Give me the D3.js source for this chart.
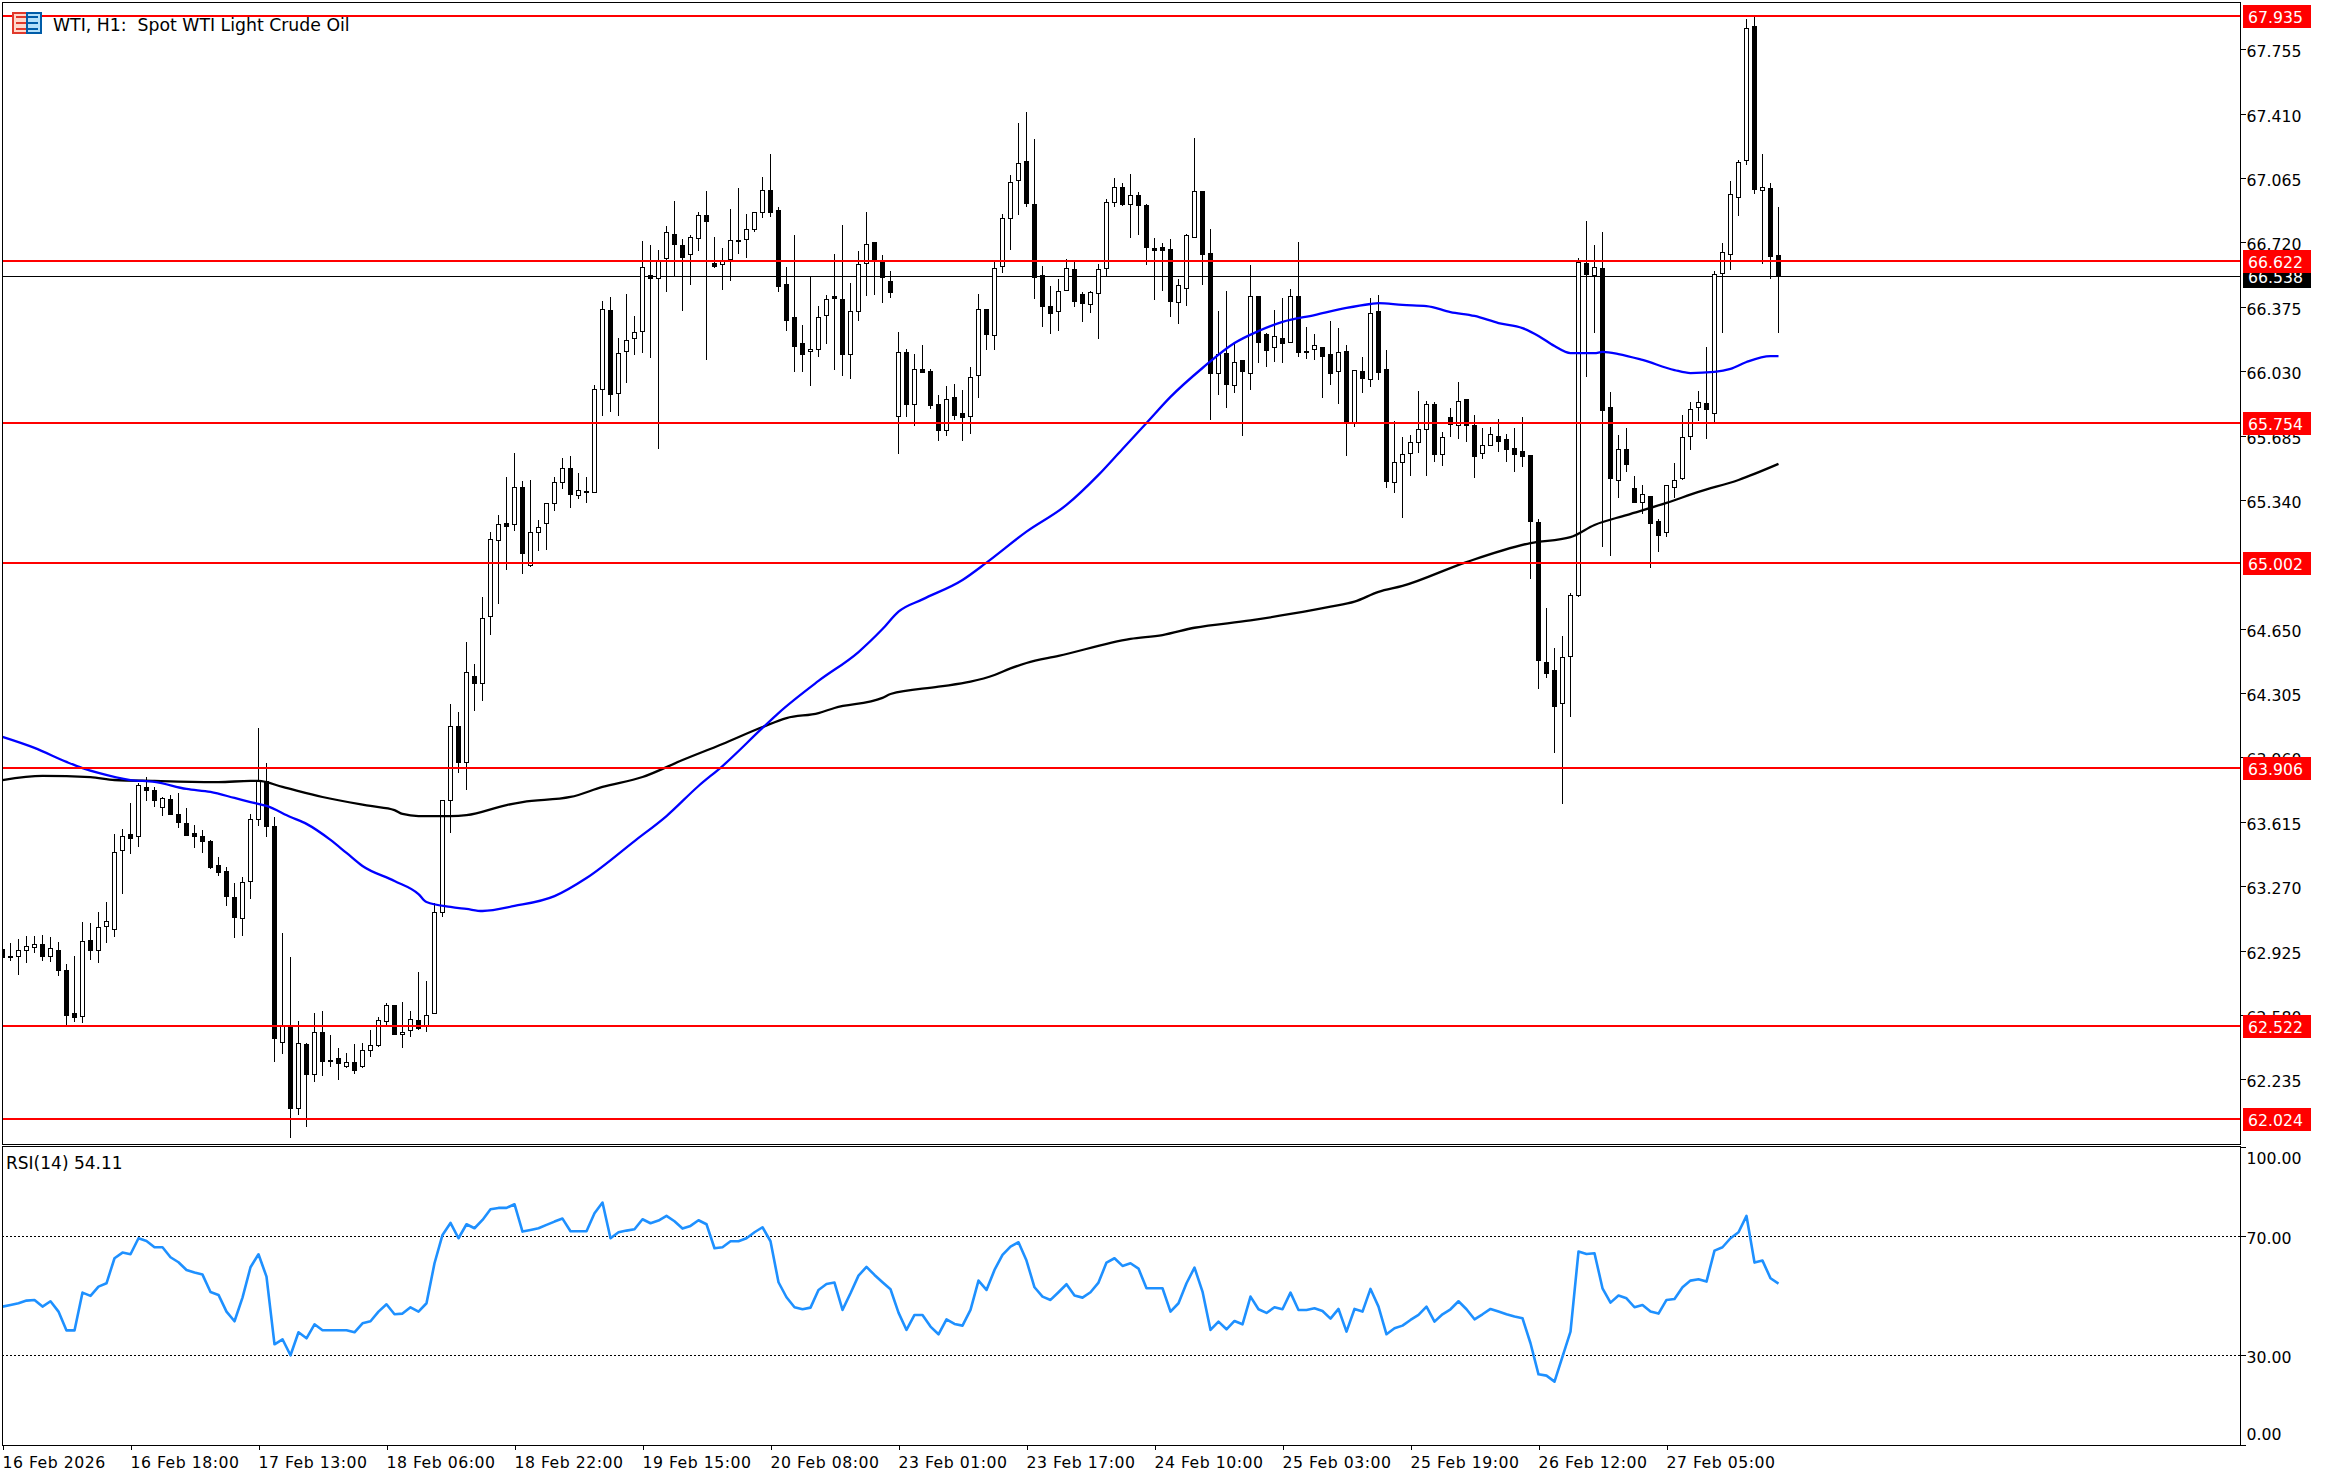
<!DOCTYPE html>
<html>
<head>
<meta charset="utf-8">
<script src="https://cdnjs.cloudflare.com/ajax/libs/d3/7.8.5/d3.min.js"></script>
<style>
html,body{margin:0;padding:0;background:#fff;}
svg{display:block;}
text{font-family:"DejaVu Sans",sans-serif;font-size:15.7px;fill:#000;}
</style>
</head>
<body>
<div id="chart"></div>
<script>
const opens=[62.932,62.896,62.894,62.927,62.943,62.959,62.894,62.927,62.819,62.589,
62.573,62.980,62.927,63.055,63.039,63.463,63.548,63.538,63.800,63.784,
63.693,63.736,63.655,63.607,63.554,63.538,63.511,63.382,63.350,63.211,
63.098,63.296,63.629,63.832,63.591,62.434,62.518,62.080,62.423,62.262,
62.487,62.338,62.348,62.309,62.326,62.309,62.391,62.417,62.546,62.632,
62.476,62.498,62.551,62.525,62.589,63.130,63.730,64.127,63.934,64.394,
64.357,64.716,65.123,65.214,65.209,65.407,64.989,65.166,65.214,65.322,
65.434,65.509,65.364,65.388,65.384,65.933,66.356,65.911,66.136,66.206,
66.243,66.544,66.527,66.635,66.763,66.704,66.656,66.742,66.865,66.608,
66.603,66.629,66.731,66.736,66.790,66.881,66.999,66.892,66.495,66.318,
66.179,66.136,66.147,66.329,66.433,66.415,66.120,66.351,66.608,66.720,
66.619,66.511,65.788,66.131,65.856,66.040,66.029,65.852,65.716,65.890,
65.804,65.788,66.008,66.361,66.222,66.592,66.849,67.053,67.154,66.924,
66.543,66.377,66.350,66.467,66.576,66.441,66.388,66.447,66.581,66.935,
67.015,66.924,66.972,66.919,66.688,66.693,66.683,66.399,66.474,66.747,
66.994,66.661,66.018,66.125,65.954,66.088,66.018,66.431,66.227,66.157,
66.206,66.184,66.431,66.136,66.147,66.157,66.120,66.029,66.136,65.750,
66.029,65.986,66.350,66.040,65.434,65.541,65.589,65.648,65.718,65.852,
65.584,65.782,65.739,65.879,65.739,65.589,65.632,65.680,65.664,65.616,
65.600,65.579,65.220,64.469,64.427,64.250,64.502,64.832,66.608,66.544,
66.581,65.836,65.445,65.611,65.402,65.327,65.360,65.226,65.167,65.408,
65.456,65.681,65.836,65.858,65.804,66.555,66.660,66.965,67.160,67.880,
67.000,67.010,66.653];
const highs=[62.964,62.964,62.985,63.003,63.003,63.007,62.996,62.969,62.852,62.894,
63.078,63.071,63.130,63.184,63.548,63.575,63.714,63.822,63.857,63.800,
63.747,63.757,63.768,63.688,63.596,63.570,63.516,63.425,63.371,63.286,
63.318,63.655,64.116,63.929,63.639,63.018,62.889,62.546,62.428,62.589,
62.600,62.471,62.401,62.375,62.423,62.428,62.498,62.568,62.643,62.632,
62.648,62.600,62.809,62.760,63.179,63.730,64.244,64.202,64.577,64.459,
64.818,65.166,65.257,65.461,65.590,65.439,65.445,65.230,65.322,65.461,
65.563,65.573,65.482,65.461,65.954,66.404,66.426,66.206,66.444,66.324,
66.726,66.704,66.678,66.806,66.940,66.736,66.758,66.881,66.994,66.747,
66.688,66.897,67.010,66.870,66.881,67.069,67.192,66.908,66.586,66.758,
66.276,66.538,66.377,66.436,66.656,66.811,66.501,66.672,66.881,66.720,
66.651,66.565,66.238,66.147,66.120,66.168,66.040,65.900,65.949,65.959,
65.927,66.050,66.444,66.361,66.613,66.870,67.079,67.358,67.417,67.272,
66.592,66.484,66.522,66.629,66.618,66.452,66.458,66.602,66.951,67.063,
67.036,67.085,66.988,66.924,66.742,66.715,66.736,66.522,66.763,67.278,
66.994,66.790,66.352,66.458,66.179,66.088,66.597,66.431,66.233,66.356,
66.420,66.468,66.720,66.265,66.227,66.157,66.297,66.259,66.168,66.034,
66.104,66.420,66.436,66.141,65.761,65.675,65.686,65.922,65.868,65.863,
65.702,65.830,65.970,65.879,65.793,65.723,65.729,65.772,65.691,65.723,
65.782,65.579,65.240,64.759,64.549,64.609,64.839,66.635,66.833,66.705,
66.774,65.917,65.686,65.724,65.467,65.418,65.360,65.238,65.419,65.536,
65.794,65.863,65.922,66.158,66.565,66.715,67.049,67.160,67.917,67.934,
67.194,67.037,66.910];
const lows=[62.857,62.871,62.794,62.861,62.911,62.871,62.866,62.791,62.526,62.544,
62.539,62.877,62.861,62.968,63.000,63.227,63.445,63.482,63.729,63.697,
63.648,63.655,63.580,63.546,63.477,63.450,63.364,63.327,63.166,62.994,
63.005,63.203,63.595,63.536,62.330,62.373,61.923,62.046,61.982,62.223,
62.255,62.303,62.234,62.298,62.266,62.298,62.357,62.407,62.526,62.476,
62.405,62.460,62.498,62.487,62.589,63.103,63.554,63.878,63.787,64.210,
64.264,64.618,64.784,64.966,65.175,64.945,64.982,65.068,65.073,65.282,
65.400,65.298,65.347,65.322,65.379,65.792,65.813,65.792,65.968,66.118,
66.129,66.102,65.615,66.456,66.533,66.354,66.494,66.676,66.092,66.585,
66.467,66.515,66.660,66.638,66.778,66.849,66.858,66.456,66.247,66.027,
66.027,65.952,66.108,66.177,66.038,66.006,65.990,66.301,66.435,66.440,
66.397,66.424,65.588,65.786,65.738,66.018,65.829,65.658,65.684,65.770,
65.658,65.695,65.888,66.142,66.145,66.558,66.681,66.869,66.911,66.418,
66.268,66.231,66.247,66.461,66.375,66.295,66.343,66.204,66.533,66.908,
66.913,66.745,66.761,66.600,66.413,66.461,66.322,66.284,66.381,66.747,
66.493,65.770,65.904,65.834,65.915,65.684,65.931,66.075,66.054,66.081,
66.075,66.179,66.107,66.097,66.088,65.888,65.957,65.856,65.577,65.729,
65.914,65.947,65.984,65.405,65.379,65.245,65.470,65.593,65.470,65.545,
65.523,65.679,65.668,65.652,65.459,65.561,65.630,65.598,65.545,65.491,
65.518,64.918,64.328,64.387,63.985,63.713,64.178,64.820,65.999,66.236,
65.087,65.042,65.352,65.491,65.327,65.263,64.974,65.062,65.144,65.352,
65.445,65.606,65.765,65.665,65.745,66.236,66.572,66.862,67.135,66.981,
66.606,66.526,66.236];
const closes=[62.889,62.893,62.927,62.948,62.959,62.894,62.937,62.819,62.582,62.571,
62.975,62.927,63.050,63.082,63.452,63.538,63.527,63.811,63.784,63.730,
63.741,63.655,63.613,63.546,63.538,63.511,63.375,63.348,63.216,63.107,
63.291,63.629,63.832,63.595,62.455,62.523,62.083,62.428,62.266,62.487,
62.335,62.336,62.325,62.326,62.287,62.391,62.417,62.551,62.632,62.476,
62.487,62.557,62.509,62.578,63.130,63.730,64.127,63.934,64.416,64.357,
64.705,65.129,65.209,65.198,65.407,65.054,65.166,65.193,65.322,65.434,
65.509,65.370,65.391,65.389,65.933,66.361,65.909,66.126,66.195,66.238,
66.586,66.527,66.619,66.774,66.713,66.644,66.747,66.865,66.833,66.595,
66.619,66.731,66.732,66.790,66.881,66.999,66.881,66.485,66.306,66.167,
66.124,66.147,66.318,66.415,66.424,66.120,66.351,66.603,66.710,66.624,
66.533,66.456,66.131,65.856,66.040,66.027,65.850,65.716,65.879,65.797,
65.786,65.997,66.361,66.227,66.581,66.849,67.042,67.144,66.933,66.533,
66.381,66.340,66.458,66.581,66.404,66.393,66.452,66.576,66.935,67.015,
66.924,66.972,66.919,66.693,66.681,66.681,66.404,66.490,66.758,66.994,
66.659,66.018,66.120,65.963,66.077,66.029,66.431,66.184,66.145,66.216,
66.179,66.431,66.134,66.137,66.168,66.113,66.018,66.131,65.756,66.034,
65.995,66.340,66.027,65.443,65.541,65.584,65.648,65.718,65.852,65.588,
65.675,65.745,65.868,65.739,65.577,65.632,65.691,65.657,65.614,65.588,
65.577,65.228,64.480,64.414,64.238,64.496,64.828,66.617,66.552,66.587,
65.824,65.456,65.611,65.531,65.327,65.370,65.215,65.154,65.419,65.445,
65.676,65.826,65.863,65.826,66.549,66.667,66.978,67.149,67.867,67.008,
67.019,66.649,66.538];

const blueIdx=[0,4,8,10,12,16,19,23,26,29,31,33,36,38,41,43,45,49,52,53,56,58,60,64,69,73,79,83,87,90,95,97,102,107,110,112,115,120,123,128,133,137,140,143,146,150,154,157,160,164,168,171,172,175,178,181,184,187,190,192,194,196,199,200,202,205,209,211,214,216,218,221,222];
const blueVal=[64.070,64.011,63.936,63.903,63.877,63.839,63.829,63.791,63.775,63.743,63.721,63.700,63.641,63.604,63.518,63.448,63.378,63.298,63.228,63.185,63.159,63.148,63.137,63.164,63.217,63.314,63.512,63.646,63.807,63.914,64.118,64.198,64.370,64.525,64.648,64.741,64.807,64.911,65.004,65.170,65.313,65.474,65.613,65.752,65.892,66.047,66.181,66.245,66.294,66.331,66.369,66.390,66.395,66.385,66.379,66.347,66.326,66.288,66.261,66.219,66.165,66.127,66.127,66.133,66.122,66.090,66.036,66.020,66.026,66.042,66.079,66.111,66.111];
const blackIdx=[0,5,11,14,19,27,31,32,35,40,46,49,50,52,56,58,63,65,71,75,80,85,90,95,98,102,104,110,111,117,121,124,126,128,132,141,145,149,156,161,166,169,172,175,183,191,196,199,203,208,212,217,222];
const blackVal=[63.839,63.861,63.855,63.839,63.834,63.828,63.834,63.834,63.802,63.748,63.700,63.678,63.657,63.646,63.646,63.651,63.705,63.721,63.748,63.802,63.855,63.946,64.032,64.123,64.171,64.198,64.225,64.279,64.300,64.339,64.366,64.402,64.437,64.466,64.504,64.595,64.616,64.655,64.694,64.729,64.768,64.795,64.847,64.879,65.007,65.109,65.141,65.206,65.259,65.324,65.383,65.447,65.533];

const rsi=[46.37,46.93,47.49,48.39,48.61,46.37,48.16,44.69,38.37,38.37,
51.08,49.96,53.09,54.21,62.62,64.52,63.96,69.34,68.44,66.31,
66.31,62.95,61.27,58.69,57.80,57.13,51.30,50.29,44.69,41.44,
49.39,59.59,63.96,56.45,33.71,35.39,30.01,37.74,35.72,40.43,
38.41,38.41,38.41,38.41,37.74,40.77,41.44,44.69,47.15,43.79,
44.02,46.14,44.69,47.49,60.93,70.46,74.49,69.34,74.04,72.70,
75.50,79.08,79.53,79.53,80.77,71.58,72.14,72.70,73.82,74.94,
75.95,71.69,71.69,71.69,77.74,81.33,69.34,71.35,71.91,72.36,
75.72,74.38,75.27,76.84,75.05,72.59,73.48,75.39,74.04,65.98,
66.31,68.33,68.33,69.34,71.35,73.03,68.33,54.55,49.51,46.15,
45.47,46.03,51.97,53.99,54.44,45.25,50.85,56.79,59.70,57.01,
54.55,52.19,44.35,38.53,43.57,43.57,39.65,37.07,42.11,40.54,
39.98,45.25,55.11,51.97,58.69,63.73,66.54,67.99,61.83,52.87,
49.73,48.61,51.19,53.88,50.07,49.39,51.19,54.44,61.16,62.62,
60.04,60.93,59.14,52.53,52.53,52.53,44.69,47.49,54.21,59.48,
51.41,38.53,41.33,38.75,41.55,40.43,49.73,45.47,44.24,46.15,
45.47,51.08,45.25,45.25,45.81,44.91,42.34,45.58,37.97,45.58,
44.69,52.31,46.37,37.07,39.09,39.98,41.88,43.57,46.37,41.33,
43.79,45.47,48.16,45.47,42.11,43.79,45.58,44.69,43.79,43.01,
42.45,34.05,23.62,23.18,21.16,29.56,37.97,64.85,64.07,64.30,
52.53,47.71,50.07,49.17,46.15,46.93,44.69,44.02,48.61,48.95,
52.87,55.11,55.56,54.77,65.19,66.31,69.34,71.35,76.84,61.16,
61.83,55.89,54.11];

const levels=[67.935,66.622,65.754,65.002,63.906,62.522,62.024];
const lastPrice=66.538;
const priceTicks=[67.755,67.410,67.065,66.720,66.375,66.030,65.685,65.340,64.650,64.305,63.960,63.615,63.270,62.925,62.580,62.235];
const rsiTicks=[100,70,30,0];
const rsiLevels=[70,30];
const timeTickIdx=[0,16,32,48,64,80,96,112,128,144,160,176,192,208];
const timeTickLabels=["16 Feb 2026","16 Feb 18:00","17 Feb 13:00","18 Feb 06:00","18 Feb 22:00","19 Feb 15:00","20 Feb 08:00","23 Feb 01:00","23 Feb 17:00","24 Feb 10:00","25 Feb 03:00","25 Feb 19:00","26 Feb 12:00","27 Feb 05:00"];
const chartTitle="WTI, H1:  Spot WTI Light Crude Oil";
const rsiTitle="RSI(14) 54.11";

const W=2326,H=1478,L=2,R=2240,T=2,MB=1144,RT=1146,RB=1445;
const svg=d3.select("#chart").append("svg").attr("width",W).attr("height",H).attr("viewBox",`0 0 ${W} ${H}`);
svg.append("rect").attr("width",W).attr("height",H).attr("fill","#fff");

const x=d3.scaleLinear().domain([0,222]).range([2.5,1778.5]);
const y=d3.scaleLinear().domain([67.935,62.024]).range([15.7,1118.7]);
const yR=d3.scaleLinear().domain([100,0]).range([1147,1444.6]);
const snap=v=>Math.round(v)+0.5;

const defs=svg.append("defs");
defs.append("clipPath").attr("id","main").append("rect").attr("x",L).attr("y",T).attr("width",R-L).attr("height",MB-T);
defs.append("clipPath").attr("id","sub").append("rect").attr("x",L).attr("y",RT).attr("width",R-L).attr("height",RB-RT);

// current price line (behind the candles)
svg.append("line").attr("x1",L).attr("x2",R).attr("y1",snap(y(lastPrice))).attr("y2",snap(y(lastPrice)))
  .attr("stroke","#000").attr("stroke-width",1).attr("shape-rendering","crispEdges");

const main=svg.append("g").attr("clip-path","url(#main)");
const idx=d3.range(opens.length);
const c=main.append("g").attr("shape-rendering","crispEdges");
c.selectAll("line").data(idx).join("line")
  .attr("x1",i=>x(i)).attr("x2",i=>x(i))
  .attr("y1",i=>Math.round(y(highs[i]))).attr("y2",i=>Math.round(y(lows[i])))
  .attr("stroke","#000").attr("stroke-width",1);
c.selectAll("rect").data(idx).join("rect")
  .attr("x",i=>x(i)-2).attr("width",4)
  .attr("y",i=>snap(y(Math.max(opens[i],closes[i]))))
  .attr("height",i=>Math.max(1,Math.round(y(Math.min(opens[i],closes[i])))-Math.round(y(Math.max(opens[i],closes[i])))))
  .attr("fill",i=>closes[i]>=opens[i]?"#fff":"#000")
  .attr("stroke","#000").attr("stroke-width",1);

const maLine=(ix,vals,col)=>{
  const ln=d3.line().x((d,k)=>x(ix[k])).y(d=>y(d)).curve(d3.curveMonotoneX);
  main.append("path").datum(vals).attr("d",ln).attr("fill","none").attr("stroke",col).attr("stroke-width",2.3).attr("stroke-linejoin","round");
};
maLine(blackIdx,blackVal,"#000");
maLine(blueIdx,blueVal,"#0000ff");

// horizontal levels
svg.append("g").attr("shape-rendering","crispEdges").selectAll("line").data(levels).join("line")
  .attr("x1",L).attr("x2",R).attr("y1",d=>Math.round(y(d))).attr("y2",d=>Math.round(y(d)))
  .attr("stroke","#ff0000").attr("stroke-width",2);

// RSI pane
const sub=svg.append("g").attr("clip-path","url(#sub)");
sub.selectAll("line").data(rsiLevels).join("line")
  .attr("x1",L).attr("x2",R).attr("y1",d=>snap(yR(d)-0.5)).attr("y2",d=>snap(yR(d)-0.5))
  .attr("stroke","#000").attr("stroke-width",1).attr("stroke-dasharray","2,2").attr("shape-rendering","crispEdges");
sub.append("path").datum(rsi).attr("fill","none").attr("stroke","#1e90ff").attr("stroke-width",2.6).attr("stroke-linejoin","round")
  .attr("d",d3.line().x((d,i)=>x(i)).y(d=>yR(d)));

// Frames
const frame=svg.append("g").attr("fill","none").attr("stroke","#000").attr("stroke-width",1).attr("shape-rendering","crispEdges");
frame.append("rect").attr("x",L+0.5).attr("y",T+0.5).attr("width",R-L).attr("height",MB-T);
frame.append("rect").attr("x",L+0.5).attr("y",RT+0.5).attr("width",R-L).attr("height",RB-RT);

// Axes
const styleAxis=g=>{g.select(".domain").remove();g.selectAll("line").attr("stroke","#000").attr("shape-rendering","crispEdges");g.selectAll("text").attr("fill","#000").style("font-family",'"DejaVu Sans",sans-serif').style("font-size","15.7px");};
const axP=svg.append("g").attr("transform",`translate(${R+0.5},0)`)
  .call(d3.axisRight(y).tickValues(priceTicks).tickFormat(d3.format(".3f")).tickSize(5).tickPadding(1));
axP.call(styleAxis);
axP.selectAll("text").attr("dy",null).attr("y",7.5);
const axR=svg.append("g").attr("transform",`translate(${R+0.5},0)`)
  .call(d3.axisRight(yR).tickValues(rsiTicks).tickFormat(d3.format(".2f")).tickSize(5).tickPadding(1));
axR.call(styleAxis);
axR.selectAll("text").attr("dy",null).attr("y",d=>d===100?16.5:(d===0?-5:7.5));
const axT=svg.append("g").attr("transform",`translate(0,${RB+0.5})`)
  .call(d3.axisBottom(x).tickValues(timeTickIdx).tickFormat((d,i)=>timeTickLabels[i]).tickSize(4).tickPadding(0));
axT.call(styleAxis);
axT.selectAll("text").attr("text-anchor","start").attr("dy",null).attr("y",22).attr("x",-0.5).style("letter-spacing","0.5px");

// Price tags
const tag=(p,bg)=>{
  const cy=Math.round(y(p));
  const g=svg.append("g");
  g.append("rect").attr("x",2243).attr("y",cy-11).attr("width",68).attr("height",23).attr("fill",bg);
  g.append("text").attr("x",2248).attr("y",cy+7).style("fill","#fff").text(d3.format(".3f")(p));
};
tag(lastPrice,"#000");
levels.forEach(p=>tag(p,"#ff0000"));

// Title + icon
const ic=svg.append("g").attr("shape-rendering","crispEdges");
ic.append("rect").attr("x",13).attr("y",13).attr("width",14).attr("height",20).attr("fill","#ffd9cc").attr("stroke","#e0392b").attr("stroke-width",2);
ic.append("rect").attr("x",27).attr("y",13).attr("width",14).attr("height",20).attr("fill","#b5e0fa").attr("stroke","#005ca8").attr("stroke-width",2);
const barYs=[16,22,28];
ic.selectAll(".rb").data(barYs).join("rect").attr("class","rb").attr("x",16).attr("y",d=>d).attr("width",10).attr("height",2).attr("fill","#e0392b");
ic.selectAll(".bb").data(barYs).join("rect").attr("class","bb").attr("x",28).attr("y",d=>d).attr("width",10).attr("height",2).attr("fill","#005ca8");
svg.append("text").attr("x",53).attr("y",30.5).attr("xml:space","preserve").style("white-space","pre").style("font-size","17.3px").text(chartTitle);
svg.append("text").attr("x",6).attr("y",1169).style("font-size","17px").text(rsiTitle);
</script>
</body>
</html>
